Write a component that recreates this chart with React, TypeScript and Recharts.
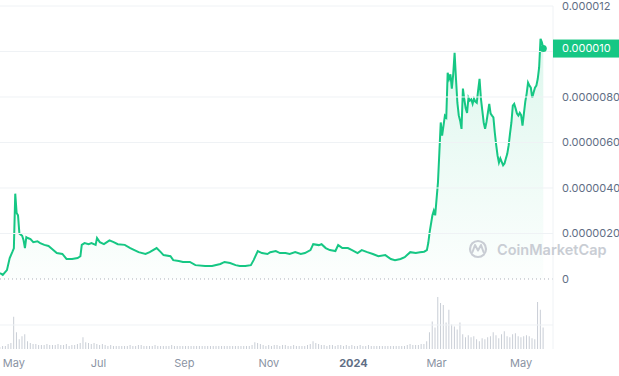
import React from "react";
import {
  ComposedChart,
  Area,
  Bar,
  XAxis,
  YAxis,
  ReferenceLine,
  ReferenceDot,
} from "recharts";

// ---------- data ----------
const PRICE_DATES = [
  "2023-04-21","2023-04-23","2023-04-26","2023-04-28","2023-04-30","2023-05-01","2023-05-02","2023-05-03",
  "2023-05-04","2023-05-05","2023-05-06","2023-05-07","2023-05-08","2023-05-09","2023-05-10","2023-05-11",
  "2023-05-13","2023-05-15","2023-05-18","2023-05-20","2023-05-23","2023-05-26","2023-05-29","2023-06-01",
  "2023-06-05","2023-06-08","2023-06-12","2023-06-16","2023-06-18","2023-06-19","2023-06-21","2023-06-24",
  "2023-06-26","2023-06-29","2023-06-30","2023-07-02","2023-07-05","2023-07-09","2023-07-12","2023-07-15",
  "2023-07-20","2023-07-24","2023-07-27","2023-07-30","2023-08-04","2023-08-07","2023-08-12","2023-08-15",
  "2023-08-17","2023-08-22","2023-08-24","2023-08-28","2023-08-31","2023-09-05","2023-09-09","2023-09-16",
  "2023-09-21","2023-09-27","2023-09-30","2023-10-04","2023-10-08","2023-10-11","2023-10-15","2023-10-19",
  "2023-10-21","2023-10-24","2023-10-27","2023-10-31","2023-11-02","2023-11-06","2023-11-09","2023-11-13",
  "2023-11-16","2023-11-20","2023-11-24","2023-11-27","2023-12-01","2023-12-03","2023-12-07","2023-12-09",
  "2023-12-12","2023-12-15","2023-12-19","2023-12-21","2023-12-24","2023-12-28","2023-12-31","2024-01-04",
  "2024-01-07","2024-01-11","2024-01-15","2024-01-19","2024-01-24","2024-01-28","2024-01-31","2024-02-04",
  "2024-02-07","2024-02-11","2024-02-15","2024-02-18","2024-02-21","2024-02-23","2024-02-24","2024-02-25",
  "2024-02-27","2024-02-28","2024-02-29","2024-03-02","2024-03-03","2024-03-04","2024-03-05","2024-03-07",
  "2024-03-08","2024-03-09","2024-03-10","2024-03-11","2024-03-12","2024-03-13","2024-03-14","2024-03-15",
  "2024-03-16","2024-03-17","2024-03-18","2024-03-19","2024-03-20","2024-03-21","2024-03-22","2024-03-23",
  "2024-03-24","2024-03-25","2024-03-26","2024-03-27","2024-03-28","2024-03-29","2024-03-30","2024-03-31",
  "2024-04-01","2024-04-02","2024-04-03","2024-04-04","2024-04-05","2024-04-06","2024-04-07","2024-04-08",
  "2024-04-09","2024-04-10","2024-04-11","2024-04-12","2024-04-13","2024-04-14","2024-04-15","2024-04-16",
  "2024-04-17","2024-04-18","2024-04-19","2024-04-20","2024-04-21","2024-04-22","2024-04-23","2024-04-24",
  "2024-04-25","2024-04-26","2024-04-27","2024-04-28","2024-04-29","2024-04-30","2024-05-01","2024-05-02",
  "2024-05-03","2024-05-04","2024-05-05","2024-05-06","2024-05-07","2024-05-08","2024-05-09","2024-05-10",
  "2024-05-11","2024-05-12","2024-05-13","2024-05-14","2024-05-15","2024-05-16","2024-05-17",
];

const PRICES = [
  0.26e-6,0.18e-6,0.39e-6,0.92e-6,1.2e-6,1.35e-6,3.75e-6,2.9e-6,
  2.8e-6,2.0e-6,1.95e-6,1.9e-6,1.7e-6,1.36e-6,1.84e-6,1.8e-6,
  1.75e-6,1.62e-6,1.66e-6,1.58e-6,1.5e-6,1.45e-6,1.3e-6,1.14e-6,
  1.1e-6,0.88e-6,0.88e-6,0.92e-6,1.0e-6,1.5e-6,1.58e-6,1.53e-6,
  1.58e-6,1.5e-6,1.8e-6,1.62e-6,1.53e-6,1.7e-6,1.62e-6,1.53e-6,
  1.5e-6,1.36e-6,1.27e-6,1.18e-6,1.1e-6,1.18e-6,1.36e-6,1.18e-6,
  1.05e-6,1.0e-6,0.83e-6,0.79e-6,0.75e-6,0.75e-6,0.61e-6,0.57e-6,
  0.57e-6,0.66e-6,0.75e-6,0.7e-6,0.61e-6,0.57e-6,0.57e-6,0.61e-6,
  0.83e-6,1.23e-6,1.14e-6,1.1e-6,1.18e-6,1.23e-6,1.14e-6,1.14e-6,
  1.1e-6,1.18e-6,1.1e-6,1.14e-6,1.27e-6,1.53e-6,1.49e-6,1.53e-6,
  1.36e-6,1.27e-6,1.23e-6,1.49e-6,1.36e-6,1.36e-6,1.27e-6,1.14e-6,
  1.27e-6,1.18e-6,1.1e-6,1.0e-6,1.05e-6,0.88e-6,0.83e-6,0.88e-6,
  0.96e-6,1.18e-6,1.14e-6,1.18e-6,1.2e-6,1.27e-6,1.58e-6,2.06e-6,
  2.8e-6,3.0e-6,2.8e-6,4.25e-6,5.56e-6,6.88e-6,6.3e-6,7.18e-6,
  7.1e-6,9.07e-6,8.8e-6,9.0e-6,8.37e-6,9.0e-6,9.94e-6,8.8e-6,
  7.75e-6,7.2e-6,6.96e-6,6.6e-6,8.37e-6,7.9e-6,7.5e-6,7.3e-6,
  7.97e-6,7.84e-6,7.9e-6,7.7e-6,7.93e-6,7.8e-6,7.75e-6,8.3e-6,
  8.8e-6,7.93e-6,7.4e-6,6.88e-6,6.6e-6,6.9e-6,7.3e-6,7.7e-6,
  7.27e-6,7.18e-6,7.1e-6,6.44e-6,5.9e-6,5.43e-6,5.12e-6,5.3e-6,
  5.15e-6,5.0e-6,5.08e-6,5.3e-6,5.5e-6,5.87e-6,6.4e-6,6.88e-6,
  7.62e-6,7.7e-6,7.5e-6,7.27e-6,7.18e-6,7.3e-6,7.2e-6,6.74e-6,
  7.27e-6,7.8e-6,8.15e-6,8.63e-6,8.5e-6,8.41e-6,7.97e-6,8.2e-6,
  8.41e-6,8.5e-6,8.8e-6,9.3e-6,10.56e-6,10.4e-6,10.13e-6,
];

// volume (relative units), one bar every VOLUME_STEP_DAYS days from VOLUME_START
const VOLUME_START = "2023-04-21";
const VOLUME_STEP_DAYS = 2;
const VOLUMES = [
  2,3,3,5,6,33,17,10,13,15,8,6,5,5,4,4,4,5,4,4,
  4,5,4,4,5,3,4,4,5,6,12,7,6,5,6,5,4,5,4,3,
  4,3,3,3,3,3,3,4,3,3,4,4,3,3,3,3,4,3,3,3,
  3,3,4,3,3,3,3,3,3,3,3,3,3,3,3,3,3,3,3,3,
  3,3,3,3,3,3,3,3,3,3,3,4,7,6,5,4,3,4,3,4,
  4,3,4,4,3,3,4,3,3,3,3,4,5,8,6,5,4,4,3,4,
  4,3,4,4,3,4,3,4,3,3,4,3,3,4,3,3,3,3,3,3,
  3,3,3,3,3,3,3,4,5,4,4,4,5,5,8,17,28,22,53,47,
  45,27,40,25,23,20,27,15,12,14,12,13,10,8,11,10,12,13,17,14,
  11,15,18,13,12,15,16,13,12,13,14,13,11,10,48,40,22,
];

const Y_TICKS = [0, 2e-6, 4e-6, 6e-6, 8e-6, 10e-6, 12e-6];
const Y_TICK_LABELS = ["0", "0.0000020", "0.0000040", "0.0000060", "0.0000080", "0.000010", "0.000012"];
const X_TICK_DATES = ["2023-05-01", "2023-07-01", "2023-09-01", "2023-11-01", "2024-01-01", "2024-03-01", "2024-05-01"];
const X_TICK_LABELS = ["May", "Jul", "Sep", "Nov", "2024", "Mar", "May"];
const X_DOMAIN_DATES = ["2023-04-21", "2024-05-24"];
const PRICE_DOMAIN = [-3.077e-6, 12e-6];
const VOLUME_DOMAIN = [0, 350];
const VOLUME_GRID = [24.5];

// ---------- build ----------
const DAY = 86400000;
const toTs = (s: string) => Date.parse(s + "T00:00:00Z");

type Row = { t: number; price?: number; volume?: number };
const rowMap = new Map<number, Row>();
PRICE_DATES.forEach((d, i) => {
  const t = toTs(d);
  const r = rowMap.get(t) || { t };
  r.price = PRICES[i];
  rowMap.set(t, r);
});
VOLUMES.forEach((v, i) => {
  const t = toTs(VOLUME_START) + i * VOLUME_STEP_DAYS * DAY;
  const r = rowMap.get(t) || { t };
  r.volume = v;
  rowMap.set(t, r);
});
const DATA = Array.from(rowMap.values()).sort((a, b) => a.t - b.t);

const LAST_DATE = toTs(PRICE_DATES[PRICE_DATES.length - 1]);
const LAST_PRICE = PRICES[PRICES.length - 1];

const GREEN = "#16c784";
const FONT = "Inter, 'Noto Sans', sans-serif";

const PriceTick = (props: any) => {
  const { x, y, payload } = props;
  const v = payload.value;
  if (v === LAST_PRICE) {
    return (
      <g>
        <rect x={x - 9} y={y - 9} width={66} height={18} fill={GREEN} />
        <text x={x} y={y} dy="0.35em" fill="#ffffff" fontSize={11} fontFamily={FONT}>
          {v.toFixed(6)}
        </text>
      </g>
    );
  }
  // a regular tick hidden under the current-price badge is not drawn
  if (Math.abs(v - LAST_PRICE) < 0.5e-6) return <g />;
  const idx = Y_TICKS.indexOf(v);
  return (
    <text x={x} y={y} dy="0.35em" fill="#616e85" fontSize={11} fontFamily={FONT}>
      {idx >= 0 ? Y_TICK_LABELS[idx] : ""}
    </text>
  );
};

const DateTick = (props: any) => {
  const { x, y, payload } = props;
  const idx = X_TICK_DATES.map(toTs).indexOf(payload.value);
  const label = idx >= 0 ? X_TICK_LABELS[idx] : "";
  const isYear = /^\d{4}$/.test(label);
  return (
    <text
      x={x}
      y={y + 18}
      textAnchor="middle"
      fill={isYear ? "#616e85" : "#8a93a3"}
      fontWeight={isYear ? 700 : 400}
      fontSize={11}
      fontFamily={FONT}
    >
      {label}
    </text>
  );
};

export default function App() {
  return (
    <div style={{ position: "absolute", left: 0, top: 0, width: 619, height: 376, background: "#fff" }}>
      <ComposedChart
        width={619}
        height={376}
        data={DATA}
        margin={{ top: 6, right: 0, bottom: 0, left: 0 }}
      >
        <defs>
          <linearGradient id="priceFill" x1="0" y1="0" x2="0" y2="1">
            <stop offset="0%" stopColor={GREEN} stopOpacity={0.24} />
            <stop offset="100%" stopColor={GREEN} stopOpacity={0.02} />
          </linearGradient>
        </defs>
        <XAxis
          dataKey="t"
          type="number"
          domain={X_DOMAIN_DATES.map(toTs)}
          ticks={X_TICK_DATES.map(toTs)}
          allowDataOverflow
          axisLine={false}
          tickLine={false}
          tickSize={0}
          tickMargin={0}
          height={27}
          interval={0}
          tick={<DateTick />}
        />
        <YAxis
          yAxisId="price"
          orientation="right"
          type="number"
          width={66}
          domain={PRICE_DOMAIN}
          allowDataOverflow
          ticks={[...Y_TICKS, LAST_PRICE]}
          interval={0}
          axisLine={{ stroke: "#eff2f5" }}
          tickLine={false}
          tickSize={0}
          tickMargin={9}
          tick={<PriceTick />}
        />
        <YAxis yAxisId="vol" hide domain={VOLUME_DOMAIN} allowDataOverflow />
        {Y_TICKS.filter((v) => v > 0).map((v) => (
          <ReferenceLine key={v} yAxisId="price" y={v} stroke="#eff2f5" strokeWidth={1} />
        ))}
        {VOLUME_GRID.map((v) => (
          <ReferenceLine key={"vg" + v} yAxisId="vol" y={v} stroke="#eff2f5" strokeWidth={1} />
        ))}
        <Bar
          yAxisId="vol"
          dataKey="volume"
          fill="#c9ced6"
          barSize={1}
          isAnimationActive={false}
        />
        <Area
          yAxisId="price"
          type="linear"
          dataKey="price"
          stroke={GREEN}
          strokeWidth={2}
          fill="url(#priceFill)"
          baseValue={0}
          connectNulls
          dot={false}
          activeDot={false}
          isAnimationActive={false}
        />
        <ReferenceLine yAxisId="price" y={0} stroke="#aab0ba" strokeDasharray="1 3" strokeWidth={1} />
        <ReferenceDot
          yAxisId="price"
          x={LAST_DATE}
          y={LAST_PRICE}
          r={3.5}
          fill={GREEN}
          stroke="none"
        />
      </ComposedChart>
      <svg
        width={150}
        height={30}
        style={{ position: "absolute", left: 465, top: 235, pointerEvents: "none" }}
      >
        <circle cx={13} cy={14} r={8} fill="none" stroke="#c9cdd4" strokeWidth={2.2} />
        <path
          d="M7.5 17 L10 10 L13 15.5 L16 10 L18.5 17"
          fill="none"
          stroke="#c9cdd4"
          strokeWidth={2}
          strokeLinejoin="round"
          strokeLinecap="round"
        />
        <text x={32} y={20} fontSize={14.5} fontWeight={600} fill="#c9cdd4" fontFamily={FONT}>
          CoinMarketCap
        </text>
      </svg>
    </div>
  );
}
